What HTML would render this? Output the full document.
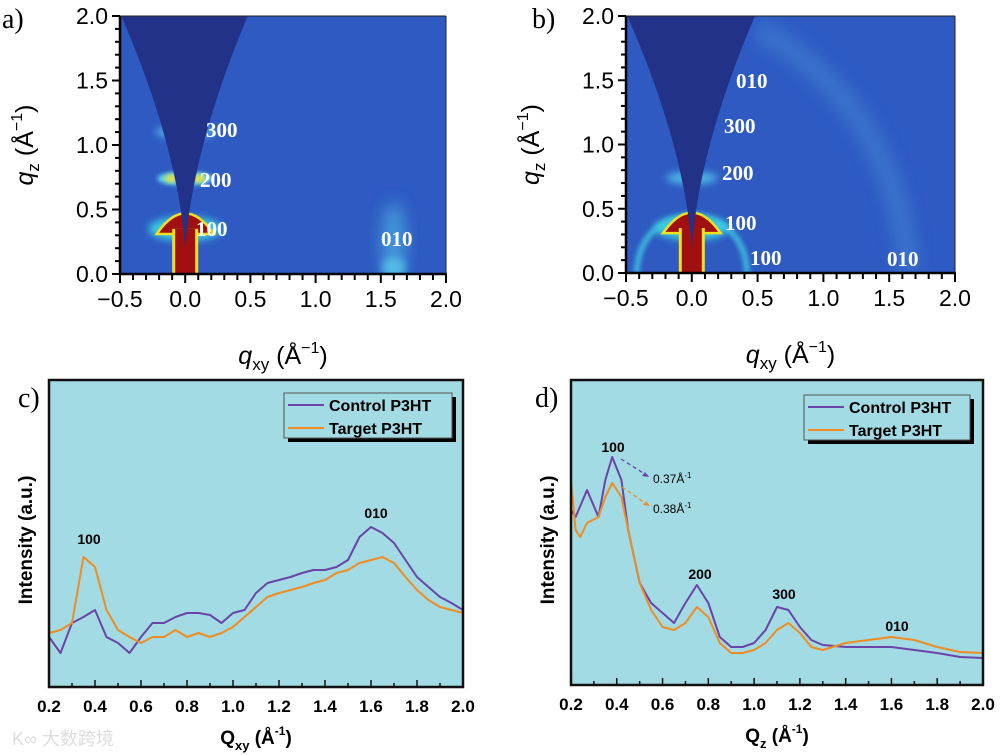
<!DOCTYPE html>
<html><head><meta charset="utf-8">
<style>
body{margin:0;background:#fff;width:1000px;height:755px;overflow:hidden;font-family:"Liberation Sans",sans-serif}
svg{position:absolute;left:0;top:0}
</style></head><body>
<svg id="fig" width="1000" height="755" viewBox="0 0 1000 755">
<defs>
<filter id="bl2" x="-50%" y="-50%" width="200%" height="200%"><feGaussianBlur stdDeviation="2"/></filter>
<filter id="bl4" x="-50%" y="-50%" width="200%" height="200%"><feGaussianBlur stdDeviation="4"/></filter>
<filter id="bl8" x="-50%" y="-50%" width="200%" height="200%"><feGaussianBlur stdDeviation="8"/></filter>
</defs>
<g id="root"></g>
</svg>
<script>
// ---- chart data ----
const qxyC = [0.2,0.25,0.3,0.35,0.4,0.45,0.5,0.55,0.6,0.65,0.7,0.75,0.8,0.85,0.9,0.95,1.0,1.05,1.1,1.15,1.2,1.25,1.3,1.35,1.4,1.45,1.5,1.55,1.6,1.65,1.7,1.75,1.8,1.85,1.9,1.95,2.0];
const controlC = [50,34,64,70,77,50,44,34,50,64,64,70,74,74,72,64,74,77,94,104,107,110,114,117,117,120,127,150,160,154,144,127,110,100,90,84,77];
const targetC = [54,57,64,130,120,77,57,50,44,50,50,57,50,54,50,54,60,70,80,90,94,97,100,104,107,114,117,124,127,130,124,110,97,87,80,77,74];
const qzCtrl = [0.2,0.22,0.27,0.32,0.35,0.38,0.42,0.45,0.5,0.55,0.6,0.65,0.7,0.75,0.8,0.85,0.9,0.95,1.0,1.05,1.1,1.15,1.2,1.25,1.3,1.4,1.5,1.6,1.7,1.8,1.9,2.0];
const controlD = [175,168,195,168,205,228,205,155,102,82,72,62,82,100,82,48,38,38,42,55,78,75,58,45,40,38,38,38,35,32,28,27];
const qzTgt = [0.2,0.22,0.24,0.27,0.32,0.35,0.38,0.42,0.45,0.5,0.55,0.6,0.65,0.7,0.75,0.8,0.85,0.9,0.95,1.0,1.05,1.1,1.15,1.2,1.25,1.3,1.4,1.5,1.6,1.7,1.8,1.9,2.0];
const targetD = [205,155,148,162,168,188,202,188,155,102,75,58,55,62,78,68,42,32,32,35,42,55,62,52,38,35,42,45,48,45,38,33,32];
const lineTicks = ["0.2","0.4","0.6","0.8","1.0","1.2","1.4","1.6","1.8","2.0"];
const mapXTicks = ["\u22120.5","0.0","0.5","1.0","1.5","2.0"];
const mapYTicks = ["0.0","0.5","1.0","1.5","2.0"];

const NS="http://www.w3.org/2000/svg";
const root=document.getElementById('root');
function mk(tag,attrs,parent,text){const e=document.createElementNS(NS,tag);for(const k in attrs)e.setAttribute(k,attrs[k]);if(text!==undefined)e.textContent=text;(parent||root).appendChild(e);return e;}

// ---------- GIWAXS maps ----------
function map(P){
  const g=mk('g',{});
  
  
  const sx=q=>P.x0+(q+0.5)*(P.x1-P.x0)/2.5;
  const sy=q=>P.y1-q*(P.y1-P.y0)/2;
  const cp=mk('clipPath',{id:P.name+'-clip'},g);
  mk('rect',{x:P.x0,y:P.y0,width:P.x1-P.x0,height:P.y1-P.y0},cp);
  const img=mk('g',{'clip-path':'url(#'+P.name+'-clip)'},g);
  mk('rect',{x:P.x0,y:P.y0,width:P.x1-P.x0,height:P.y1-P.y0,fill:'#2e5ac2'},img);
  const cx=sx(0);
  P.feats(img,sx,sy,cx);
  const w=mk('path',{d:`M${sx(-0.49)},${P.y0} Q${cx-8},${sy(1)} ${cx},${sy(0.2)} Q${cx+8},${sy(1)} ${sx(0.48)},${P.y0} Z`,fill:'#213288'},img);
  
  
  mk('line',{x1:P.x0,y1:P.y0,x2:P.x0,y2:P.y1+1,stroke:'#000','stroke-width':2.5},g);
  mk('line',{x1:P.x0,y1:P.y1,x2:P.x1+1,y2:P.y1,stroke:'#000','stroke-width':2.5},g);
  mk('line',{x1:P.x0,y1:P.y0,x2:P.x1,y2:P.y0,stroke:'#222','stroke-width':1},g);
  mk('line',{x1:P.x1,y1:P.y0,x2:P.x1,y2:P.y1,stroke:'#222','stroke-width':1},g);
  for(let i=0;i<=20;i++){const y=sy(i*0.1);mk('line',{x1:P.x0-(i%5==0?8:5),y1:y,x2:P.x0,y2:y,stroke:'#000','stroke-width':2},g);}
  for(let i=0;i<=25;i++){const x=sx(-0.5+i*0.1);mk('line',{x1:x,y1:P.y1,x2:x,y2:P.y1+(i%5==0?9:6),stroke:'#000','stroke-width':2},g);}
  mapYTicks.forEach((t,i)=>{const e=mk('text',{x:P.x0-12,y:sy(i*0.5)+8,'text-anchor':'end','font-size':23,fill:'#000'},g,t);
    });
  mapXTicks.forEach((t,i)=>{const e=mk('text',{x:sx(-0.5+i*0.5),y:P.y1+33,'text-anchor':'middle','font-size':23,fill:'#000'},g,t);
    });
  const xt=mk('text',{x:(P.x0+P.x1)/2,y:P.y1+90,'text-anchor':'middle','font-size':25},g);
  
  xt.innerHTML='<tspan font-style="italic">q</tspan><tspan font-size="17" dy="6">xy</tspan><tspan dy="-6"> (Å</tspan><tspan font-size="16" dy="-11">−1</tspan><tspan dy="11">)</tspan>';
  const yt=mk('text',{transform:`translate(${P.x0-87},${(P.y0+P.y1)/2}) rotate(-90)`,'text-anchor':'middle','font-size':25},g);
  
  yt.innerHTML='<tspan font-style="italic">q</tspan><tspan font-size="17" dy="6">z</tspan><tspan dy="-6"> (Å</tspan><tspan font-size="16" dy="-11">−1</tspan><tspan dy="11">)</tspan>';
  const pl=mk('text',{x:P.lx,y:28,'font-size':28,'font-family':'Liberation Serif, serif'},g,P.letter);
  
  P.labels.forEach(l=>{const e=mk('text',{x:l[1],y:l[2],'font-size':21,'font-weight':'bold',fill:'#fff','font-family':'Liberation Serif, serif'},g,l[0]);
    });
}
function mushroom(img,sx,sy,cx){
  mk('ellipse',{cx:cx,cy:sy(0.35),rx:sx(0.28)-cx,ry:12,fill:'#3ad0e0',filter:'url(#bl4)'},img);
  mk('path',{d:`M${sx(-0.2)},${sy(0.32)} Q${cx},${sy(0.6)} ${sx(0.2)},${sy(0.32)} Z`,fill:'#f0e020',stroke:'#f0e020','stroke-width':5},img);
  mk('path',{d:`M${sx(-0.2)},${sy(0.32)} Q${cx},${sy(0.6)} ${sx(0.2)},${sy(0.32)} Z`,fill:'#a01010'},img);
  mk('rect',{x:cx-13,y:sy(0.35),width:26,height:sy(0)-sy(0.35),fill:'#f0e020'},img);
  mk('rect',{x:cx-10,y:sy(0.35),width:20,height:sy(0)-sy(0.35),fill:'#a01010'},img);
}
map({name:'giwaxs-map-a',x0:120,x1:446,y0:16,y1:274,lx:2,letter:'a)',
  labels:[['300',206,137],['200',200,187],['100',196,236],['010',381,246]],
  feats:(img,sx,sy,cx)=>{
    mk('ellipse',{cx:cx,cy:sy(1.1),rx:30,ry:6,fill:'#58b8e8',filter:'url(#bl4)'},img);
    mk('ellipse',{cx:cx,cy:sy(0.74),rx:28,ry:7,fill:'#60d8e8',filter:'url(#bl2)'},img);
    mk('ellipse',{cx:cx+14,cy:sy(0.74),rx:6,ry:4,fill:'#e8e040',filter:'url(#bl2)'},img);
    mk('ellipse',{cx:cx-14,cy:sy(0.74),rx:6,ry:4,fill:'#e8e040',filter:'url(#bl2)'},img);
    mushroom(img,sx,sy,cx);
    mk('ellipse',{cx:sx(1.6),cy:sy(0.25),rx:12,ry:40,fill:'#4aa8e0',opacity:0.8,filter:'url(#bl8)'},img);
    mk('ellipse',{cx:sx(1.6),cy:sy(0.05),rx:12,ry:10,fill:'#58c8e8',opacity:0.8,filter:'url(#bl4)'},img);
  }});
map({name:'giwaxs-map-b',x0:626,x1:955,y0:16,y1:273,lx:532,letter:'b)',
  labels:[['010',736,88],['300',724,133],['200',722,180],['100',725,230],['100',750,265],['010',887,266]],
  feats:(img,sx,sy,cx)=>{
    mk('path',{d:`M${sx(-0.42)},${sy(0)} Q${sx(-0.4)},${sy(0.4)} ${cx},${sy(0.45)} Q${sx(0.4)},${sy(0.4)} ${sx(0.42)},${sy(0)}`,fill:'none',stroke:'#40c8e0','stroke-width':6,opacity:0.8,filter:'url(#bl2)'},img);
    mk('path',{d:`M${sx(0.5)},${sy(1.9)} Q${sx(1.55)},${sy(1.3)} ${sx(1.65)},${sy(0)}`,fill:'none',stroke:'#4a90dc','stroke-width':22,opacity:0.45,filter:'url(#bl8)'},img);
    mk('ellipse',{cx:cx,cy:sy(0.74),rx:26,ry:6,fill:'#50b8e8',filter:'url(#bl4)'},img);
    mushroom(img,sx,sy,cx);
  }});

// ---------- line charts ----------
function lineChart(P){
  const g=mk('g',{});
  
  
  const sx=q=>P.x0+(q-0.2)*(P.x1-P.x0)/1.8;
  const sy=v=>P.y1-v;
  mk('rect',{x:P.x0,y:P.y0,width:P.x1-P.x0,height:P.y1-P.y0,fill:'#a2dbe4'},g);
  const cp=mk('clipPath',{id:P.name+'-clip'},g);
  mk('rect',{x:P.x0,y:P.y0,width:P.x1-P.x0,height:P.y1-P.y0},cp);
  const lg=mk('g',{'clip-path':'url(#'+P.name+'-clip)'},g);
  const draw=(xs,vs,col,nm)=>{const d=xs.map((q,i)=>(i?'L':'M')+sx(q).toFixed(1)+','+sy(vs[i]).toFixed(1)).join(' ');
    const p=mk('path',{d:d,fill:'none',stroke:col,'stroke-width':2,'stroke-linejoin':'round'},lg);
    };
  draw(P.cx,P.cv,'#6a44a8','control-p3ht-line');
  draw(P.tx,P.tv,'#f08c20','target-p3ht-line');
  mk('rect',{x:P.x0,y:P.y0,width:P.x1-P.x0,height:P.y1-P.y0,fill:'none',stroke:'#111','stroke-width':2.5},g);
  for(let i=0;i<=18;i++){const x=sx(0.2+i*0.1);mk('line',{x1:x,y1:P.y1,x2:x,y2:P.y1-(i%2==0?7:4),stroke:'#111','stroke-width':1.5},g);}
  lineTicks.forEach((t,i)=>{const e=mk('text',{x:sx(0.2+i*0.2),y:P.y1+25,'text-anchor':'middle','font-size':17,'font-weight':'bold'},g,t);
    });
  const xt=mk('text',{x:(P.x0+P.x1)/2,y:P.y1+57,'text-anchor':'middle','font-size':19,'font-weight':'bold'},g);
  
  xt.innerHTML='Q<tspan font-size="13" dy="6">'+P.sub+'</tspan><tspan dy="-6"> (Å</tspan><tspan font-size="12" dy="-9">-1</tspan><tspan dy="9">)</tspan>';
  const yt=mk('text',{transform:`translate(${P.x0-17},${P.y0+160}) rotate(-90)`,'text-anchor':'middle','font-size':19,'font-weight':'bold'},g,'Intensity (a.u.)');
  
  const pl=mk('text',{x:P.lx,y:P.y0+27,'font-size':28,'font-family':'Liberation Serif, serif'},g,P.letter);
  
  const L=mk('g',{},g);
  
  mk('rect',{x:P.lgx+4,y:P.lgy+4,width:P.lgw,height:45,fill:'#000'},L);
  mk('rect',{x:P.lgx,y:P.lgy,width:P.lgw,height:45,fill:'#a2dbe4',stroke:'#555','stroke-width':1},L);
  const e1=mk('line',{x1:P.lgx+4,y1:P.lgy+12,x2:P.lgx+40,y2:P.lgy+12,stroke:'#6a44a8','stroke-width':2},L);
  
  const t1=mk('text',{x:P.lgx+45,y:P.lgy+18,'font-size':16,'font-weight':'bold'},L,'Control P3HT');
  
  const e2=mk('line',{x1:P.lgx+4,y1:P.lgy+35,x2:P.lgx+40,y2:P.lgy+35,stroke:'#f08c20','stroke-width':2},L);
  
  const t2=mk('text',{x:P.lgx+45,y:P.lgy+41,'font-size':16,'font-weight':'bold'},L,'Target P3HT');
  
  P.labels.forEach(l=>{const e=mk('text',{x:l[1],y:l[2],'text-anchor':'middle','font-size':14,'font-weight':'bold'},g,l[0]);
    });
  return {g,sx,sy};
}
lineChart({name:'line-chart-c',x0:49,x1:463,y0:380,y1:687,sub:'xy',lx:18,letter:'c)',lgx:284,lgy:393,lgw:168,
  cx:qxyC,cv:controlC,tx:qxyC,tv:targetC,labels:[['100',89,544],['010',376,518]]});
const D=lineChart({name:'line-chart-d',x0:571,x1:983,y0:380,y1:685,sub:'z',lx:535,letter:'d)',lgx:804,lgy:395,lgw:166,
  cx:qzCtrl,cv:controlD,tx:qzTgt,tv:targetD,labels:[['100',613,452],['200',700,579],['300',784,599],['010',897,631]]});
const a1=mk('line',{x1:621,y1:459,x2:648,y2:476,stroke:'#6a44a8','stroke-width':1.3,'stroke-dasharray':'4,3'},D.g);

mk('path',{d:'M649,477 l-7,-1 l3,-4 z',fill:'#6a44a8'},D.g);
const a2=mk('line',{x1:622,y1:487,x2:648,y2:505,stroke:'#f08c20','stroke-width':1.3,'stroke-dasharray':'4,3'},D.g);

mk('path',{d:'M650,506 l-7,-1 l3,-4 z',fill:'#f08c20'},D.g);
const n1=mk('text',{x:653,y:483,'font-size':12},D.g);n1.innerHTML='0.37Å<tspan font-size="8" dy="-5">-1</tspan>';

const n2=mk('text',{x:653,y:513,'font-size':12},D.g);n2.innerHTML='0.38Å<tspan font-size="8" dy="-5">-1</tspan>';

const wm=mk('text',{x:12,y:745,'font-size':18,fill:'#ddd','font-family':'Liberation Sans, Noto Sans CJK SC, sans-serif'},root,'K∞ 大数跨境');

</script>
</body></html>
